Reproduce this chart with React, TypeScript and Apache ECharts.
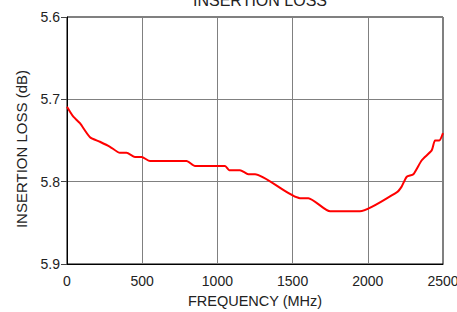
import React, { useEffect, useRef } from "react";
import * as echarts from "echarts";

const freqMHz = [0, 20, 42, 86, 153, 219, 286, 352, 396, 452, 496, 552, 795, 851, 1051, 1079, 1150, 1206, 1250, 1549, 1605, 1749, 1948, 2192, 2225, 2259, 2303, 2359, 2425, 2447, 2475, 2500];
const lossDb = [5.709, 5.715, 5.721, 5.729, 5.746, 5.7515, 5.7576, 5.765, 5.765, 5.770, 5.770, 5.775, 5.775, 5.781, 5.781, 5.786, 5.786, 5.791, 5.791, 5.820, 5.820, 5.836, 5.836, 5.813, 5.806, 5.794, 5.791, 5.774, 5.762, 5.750, 5.750, 5.741];
const xTicks = [0, 500, 1000, 1500, 2000, 2500];
const yTicks = [5.6, 5.7, 5.8, 5.9];

const FONT = "'Liberation Sans', Arial, sans-serif";

export default function App() {
  const ref = useRef<HTMLDivElement>(null);
  useEffect(() => {
    if (!ref.current) return;
    const chart = echarts.init(ref.current, null, { renderer: "svg" });
    chart.setOption({
      animation: false,
      title: {
        text: "INSERTION LOSS",
        left: 255,
        textAlign: "center",
        top: -13,
        textStyle: { fontFamily: FONT, fontSize: 16, fontWeight: "normal", color: "#222" },
      },
      grid: {
        left: 67,
        right: 14,
        top: 17,
        bottom: 48,
        show: true,
        borderColor: "#000",
        borderWidth: 1,
        containLabel: false,
        outerBoundsMode: "none",
      },
      xAxis: {
        type: "value",
        min: xTicks[0],
        max: xTicks[xTicks.length - 1],
        interval: 500,
        name: "FREQUENCY (MHz)",
        nameLocation: "middle",
        nameGap: 29,
        nameTextStyle: { fontFamily: FONT, fontSize: 14.5, color: "#222" },
        axisLine: { show: true, lineStyle: { color: "#000", width: 1 } },
        axisTick: { show: false },
        axisLabel: { fontFamily: FONT, fontSize: 14, color: "#222", margin: 10, formatter: (v: number) => String(v) },
        splitLine: { show: true, lineStyle: { color: "#808080", width: 1 } },
      },
      yAxis: {
        type: "value",
        inverse: true,
        min: yTicks[0],
        max: yTicks[yTicks.length - 1],
        interval: 0.1,
        axisLine: { show: true, lineStyle: { color: "#000", width: 1 } },
        axisTick: { show: true, length: 6, lineStyle: { color: "#444" } },
        axisLabel: { fontFamily: FONT, fontSize: 14, color: "#222", margin: 7, formatter: (v: number) => v.toFixed(1) },
        splitLine: { show: true, lineStyle: { color: "#808080", width: 1 } },
      },
      graphic: [
        {
          type: "text",
          x: 21,
          y: 149,
          rotation: Math.PI / 2,
          style: {
            text: "INSERTION LOSS (dB)",
            align: "center",
            verticalAlign: "middle",
            fontFamily: FONT,
            fontSize: 15,
            fill: "#222",
          },
        },
      ],
      series: [
        {
          type: "line",
          data: freqMHz.map((f, i) => [f, lossDb[i]]),
          showSymbol: false,
          smooth: 0.2,
          lineStyle: { color: "#ff0000", width: 2 },
          clip: true,
        },
      ],
    });
    return () => chart.dispose();
  }, []);
  return <div ref={ref} style={{ position: "absolute", left: 0, top: 0, width: 457, height: 312 }} />;
}
